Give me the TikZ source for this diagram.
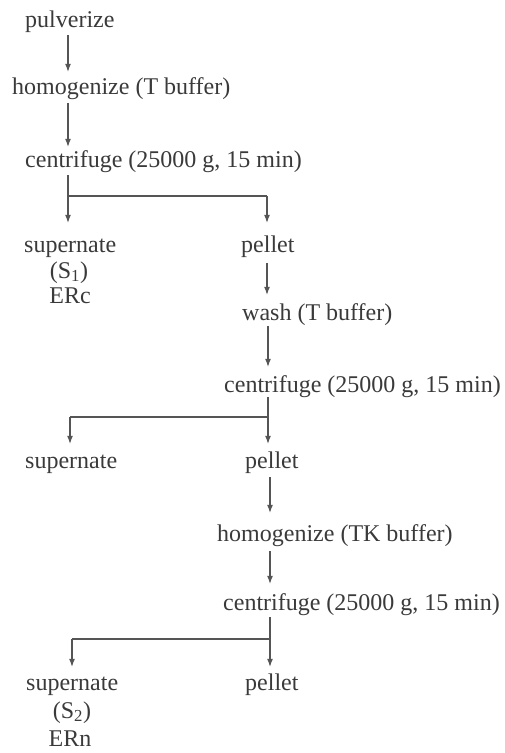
\documentclass[tikz,border=0pt]{standalone}
\usepackage{fontspec}
\setmainfont{Liberation Serif}
\usetikzlibrary{arrows.meta}
\definecolor{txt}{HTML}{3A3A3A}
\definecolor{lncol}{HTML}{555555}
\begin{document}
\begin{tikzpicture}[x=1pt,y=-1pt,
  lbl/.style={inner sep=0pt, font=\fontsize{24}{28}\selectfont, text=txt,
              text height=16pt, text depth=5pt, anchor=base west},
  sub/.style={lbl, anchor=base},
  conn/.style={draw=lncol, line width=1.1pt},
  arr/.style={conn, -{Latex[length=8pt,width=6pt]}}]
\useasboundingbox (0,0) rectangle (504,753);
% nodes
\node[lbl] (pulv) at (25,27) {pulverize};
\node[lbl] (hom1) at (12,94) {homogenize (T buffer)};
\node[lbl] (cen1) at (25,167) {centrifuge (25000 g, 15 min)};
\node[lbl] (sup1) at (24,252) {supernate};
\node[sub] (s1) at (69,278) {(S\textsubscript{1})};
\node[sub] (erc) at (70,303) {ERc};
\node[lbl] (pel1) at (241,252) {pellet};
\node[lbl] (wash) at (242,320) {wash (T buffer)};
\node[lbl] (cen2) at (224,392) {centrifuge (25000 g, 15 min)};
\node[lbl] (sup2) at (25,468) {supernate};
\node[lbl] (pel2) at (245,468) {pellet};
\node[lbl] (hom2) at (217,541) {homogenize (TK buffer)};
\node[lbl] (cen3) at (223,610) {centrifuge (25000 g, 15 min)};
\node[lbl] (sup3) at (26,690) {supernate};
\node[sub] (s2) at (72,718) {(S\textsubscript{2})};
\node[sub] (ern) at (70,746) {ERn};
\node[lbl] (pel3) at (245,690) {pellet};
% column coordinates / junctions
\coordinate (j1) at (68,196);
\coordinate (k1) at (267,196);
\coordinate (j2) at (268,417);
\coordinate (k2) at (70,417);
\coordinate (j3) at (270,639);
\coordinate (k3) at (72,639);
% main arrows
\draw[arr, shorten <=3pt, shorten >=6pt] (pulv.south -| j1) -- (hom1.north -| j1);
\draw[arr, shorten <=4pt, shorten >=4pt] (hom1.south -| j1) -- (cen1.north -| j1);
% branch 1
\draw[conn, shorten <=3pt] (cen1.south -| j1) -- (j1) -- (k1);
\draw[arr, shorten >=13pt] (j1) -- (sup1.north -| j1);
\draw[arr, shorten >=13pt] (k1) -- (pel1.north -| k1);
\draw[arr, shorten <=6pt, shorten >=9pt] (pel1.south -| k1) -- (wash.north -| k1);
\draw[arr, shorten <=1pt, shorten >=9pt] (wash.south -| j2) -- (cen2.north -| j2);
% branch 2
\draw[conn, shorten <=0pt] (cen2.south -| j2) -- (j2) -- (k2);
\draw[arr, shorten >=8pt] (k2) -- (sup2.north -| k2);
\draw[arr, shorten >=8pt] (j2) -- (pel2.north -| j2);
\draw[arr, shorten <=4pt, shorten >=12pt] (pel2.south -| j3) -- (hom2.north -| j3);
\draw[arr, shorten <=5pt, shorten >=10pt] (hom2.south -| j3) -- (cen3.north -| j3);
% branch 3
\draw[conn, shorten <=2pt] (cen3.south -| j3) -- (j3) -- (k3);
\draw[arr, shorten >=7pt] (k3) -- (sup3.north -| k3);
\draw[arr, shorten >=7pt] (j3) -- (pel3.north -| j3);
\end{tikzpicture}
\end{document}
